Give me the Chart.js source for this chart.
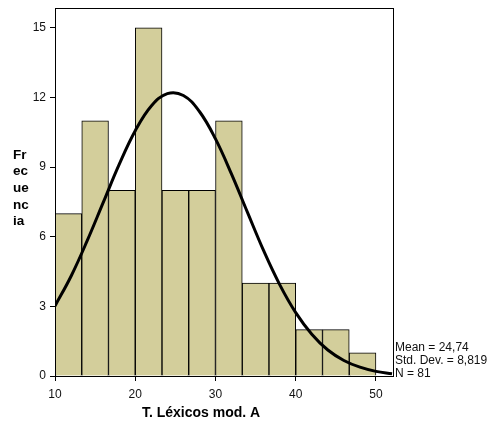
<!DOCTYPE html>
<html>
<head>
<meta charset="utf-8">
<script src="https://cdn.jsdelivr.net/npm/chart.js@4/dist/chart.umd.min.js"></script>
<style>
    html, body { margin: 0; padding: 0; background: #fff; }
    #wrap { width: 491px; height: 424px; }
</style>
</head>
<body>
<div id="wrap"><canvas id="hist"></canvas></div>
<script>
/* ================= DATA ================= */

// histogram bins (width 10/3), counts per bin
const binCenters = [11.67, 15, 18.33, 21.67, 25, 28.33, 31.67, 35, 38.33, 41.67, 45, 48.33];
const binCounts = [7, 11, 8, 15, 8, 8, 11, 4, 4, 2, 2, 1];

// fitted normal curve, read along x
const curveX = [10, 12, 14, 16, 18, 20, 22, 24, 26, 28, 30, 32, 34, 36, 38, 40, 42, 44, 46, 48, 50, 52];
const curveY = [3.02, 4.30, 5.82, 7.47, 9.12, 10.57, 11.64, 12.17, 12.09, 11.40, 10.22, 8.70,
                7.04, 5.40, 3.94, 2.73, 1.80, 1.12, 0.67, 0.38, 0.20, 0.10];

const xTicks = [10, 20, 30, 40, 50];
const yTicks = [0, 3, 6, 9, 12, 15];

const xTitle = "T. Léxicos mod. A";
const yTitleLines = ["Fr", "ec", "ue", "nc", "ia"];
const statLines = ["Mean = 24,74", "Std. Dev. = 8,819", "N = 81"];

/* ================= DECORATION ================= */

const FONT = "'Liberation Sans', Arial, sans-serif";

const framePlugin = {
    id: "frame",
    afterDatasetsDraw(chart) {
        const { ctx, chartArea: a } = chart;
        ctx.save();
        ctx.strokeStyle = "#000";
        ctx.lineWidth = 1;
        ctx.strokeRect(a.left + 0.5, a.top + 0.5, a.right - a.left, a.bottom - a.top);

        ctx.fillStyle = "#000";
        ctx.font = "bold 14px " + FONT;
        ctx.textAlign = "center";
        ctx.textBaseline = "middle";
        ctx.fillText(xTitle, 201, 413);

        ctx.textAlign = "left";
        ctx.font = "bold 13.5px " + FONT;
        yTitleLines.forEach((t, i) => ctx.fillText(t, 13, 155 + i * 16.6));

        ctx.font = "12px " + FONT;
        ctx.fillStyle = "#111";
        statLines.forEach((t, i) => ctx.fillText(t, a.right + 2, 348 + i * 12.8));
        ctx.restore();
    }
};

/* ================= CHART ================= */

new Chart(document.getElementById("hist"), {
    data: {
        datasets: [
            {
                type: "line",
                data: curveX.map((x, i) => ({ x, y: curveY[i] })),
                borderColor: "#000",
                borderWidth: 3,
                pointRadius: 0,
                tension: 0.4,
                order: 0
            },
            {
                type: "bar",
                data: binCenters.map((x, i) => ({ x, y: binCounts[i] })),
                backgroundColor: "#d3ce9b",
                borderColor: "#000",
                borderWidth: 1,
                barPercentage: 1,
                categoryPercentage: 1,
                order: 1
            }
        ]
    },
    options: {
        responsive: true,
        maintainAspectRatio: false,
        animation: false,
        layout: { padding: { left: 0, right: 98, top: 8, bottom: 0 } },
        plugins: { legend: { display: false }, tooltip: { enabled: false } },
        scales: {
            x: {
                type: "linear",
                offset: false,
                min: 10,
                max: 52.12,
                afterFit: s => { s.height = 48; s.paddingLeft = 0; s.paddingRight = 0; },
                afterBuildTicks: s => { s.ticks = xTicks.map(v => ({ value: v })); },
                grid: { offset: false, drawOnChartArea: false, drawTicks: true, tickLength: 5, color: "#000" },
                border: { display: true, color: "#000" },
                ticks: { color: "#111", font: { family: FONT, size: 12 }, padding: 6, maxRotation: 0 }
            },
            y: {
                min: 0,
                max: 15.86,
                afterFit: s => { s.width = 55; s.paddingTop = 0; s.paddingBottom = 0; },
                afterBuildTicks: s => { s.ticks = yTicks.map(v => ({ value: v })); },
                grid: { drawOnChartArea: false, drawTicks: true, tickLength: 5, color: "#000" },
                border: { display: true, color: "#000" },
                ticks: { color: "#111", font: { family: FONT, size: 12 }, padding: 4 }
            }
        }
    },
    plugins: [framePlugin]
});
</script>
</body>
</html>
